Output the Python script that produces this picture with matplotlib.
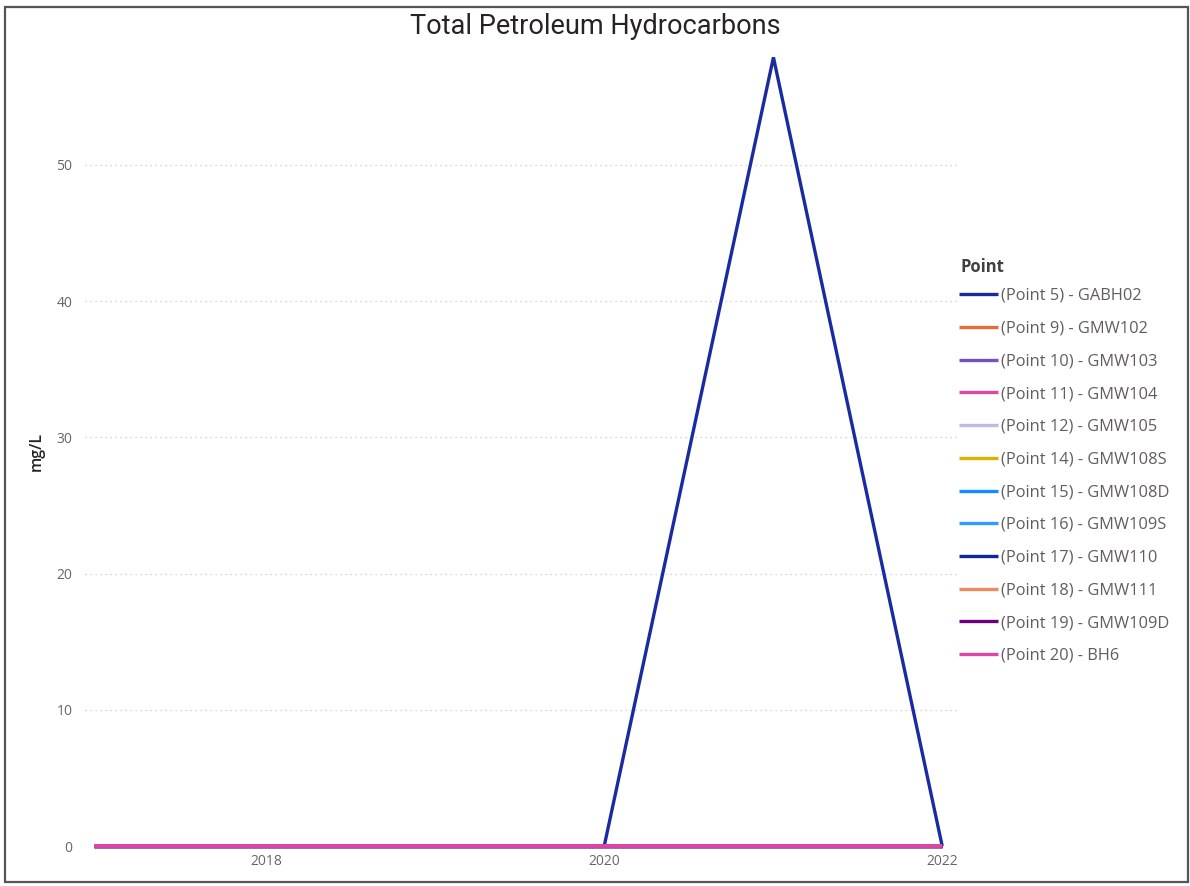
import matplotlib
matplotlib.use("Agg")
import matplotlib.pyplot as plt
import matplotlib.dates as mdates
from matplotlib.patches import Rectangle
import numpy as np

# Sampling dates and Total Petroleum Hydrocarbons results (mg/L)
sample_dates = ["2016-12-24", "2020-01-01", "2021-01-01", "2022-01-01"]

points = [
    "(Point 5) - GABH02",
    "(Point 9) - GMW102",
    "(Point 10) - GMW103",
    "(Point 11) - GMW104",
    "(Point 12) - GMW105",
    "(Point 14) - GMW108S",
    "(Point 15) - GMW108D",
    "(Point 16) - GMW109S",
    "(Point 17) - GMW110",
    "(Point 18) - GMW111",
    "(Point 19) - GMW109D",
    "(Point 20) - BH6",
]

gabh02 = [0, 0, 57.9, 0]
gmw102 = [0, 0, 0, 0]
gmw103 = [0, 0, 0, 0]
gmw104 = [0, 0, 0, 0]
gmw105 = [0, 0, 0, 0]
gmw108s = [0, 0, 0, 0]
gmw108d = [0, 0, 0, 0]
gmw109s = [0, 0, 0, 0]
gmw110 = [0, 0, 0, 0]
gmw111 = [0, 0, 0, 0]
gmw109d = [0, 0, 0, 0]
bh6 = [0, 0, 0, 0]

series_values = [gabh02, gmw102, gmw103, gmw104, gmw105, gmw108s,
                 gmw108d, gmw109s, gmw110, gmw111, gmw109d, bh6]

colors = ["#1A2AA0", "#E66C37", "#744EC2", "#E044A7", "#C4B7E6", "#D9B300",
          "#118DFF", "#2E9BFF", "#12239E", "#EB895F", "#6B007B", "#E044A7"]

y_ticks = [0, 10, 20, 30, 40, 50]
x_tick_years = [2018, 2020, 2022]

plt.rcParams["font.family"] = ["Open Sans", "DejaVu Sans"]

fig = plt.figure(figsize=(11.9, 8.86), dpi=100)
ax = fig.add_axes([0.0714, 0.0451, 0.7328, 0.8917])

dates = np.array(sample_dates, dtype="datetime64[D]")
n = len(points)
for i, (name, vals, col) in enumerate(zip(points, series_values, colors)):
    ax.plot(dates, vals, color=col, lw=2.8 if i == n - 1 else 2.4, label=name,
            clip_on=False, solid_joinstyle="miter", solid_capstyle="butt")

ax.set_xlim(np.datetime64("2016-12-04"), np.datetime64("2022-02-02"))
ax.set_ylim(0, 58)

ax.set_yticks(y_ticks)
ax.set_xticks([np.datetime64(f"{y}-01-01") for y in x_tick_years])
ax.xaxis.set_major_formatter(mdates.DateFormatter("%Y"))

ax.grid(axis="y", color="#C8C8C8", linestyle=(0, (1, 3)), lw=0.9)
ax.set_axisbelow(True)
for s in ax.spines.values():
    s.set_visible(False)
ax.tick_params(axis="both", length=0, labelsize=10, labelcolor="#666666")
ax.tick_params(axis="y", pad=9)
ax.tick_params(axis="x", pad=6)

ax.set_ylabel("mg/L", fontsize=11.5, color="#252423", fontweight="semibold")
ax.yaxis.set_label_coords(-0.046, 0.5)

fig.text(0.5, 0.970, "Total Petroleum Hydrocarbons", ha="center", va="center",
         fontsize=19.5, color="#252423", family=["Roboto", "DejaVu Sans"])

# Legend heading drawn on its own, entries listed below it
fig.text(960 / 1190, 1 - 267 / 886, "Point", ha="left", va="center",
         fontsize=12, fontweight="bold", color="#404040")
handles, labels = ax.get_legend_handles_labels()
leg = fig.legend(handles, labels, loc="upper left", bbox_to_anchor=(0.806, 0.675),
                 frameon=False, fontsize=11.8, labelcolor="#605E5C",
                 handlelength=2.35, handletextpad=0.2, labelspacing=1.02,
                 borderaxespad=0, borderpad=0)
for lh in leg.get_lines():
    lh.set_linewidth(2.4)

# Outer frame around the visual
fig.patches.append(Rectangle((0.004, 0.004), 0.994, 0.988, transform=fig.transFigure,
                             fill=False, edgecolor="#555555", lw=1.6))

fig.savefig("out.png", dpi=100, facecolor="white")
